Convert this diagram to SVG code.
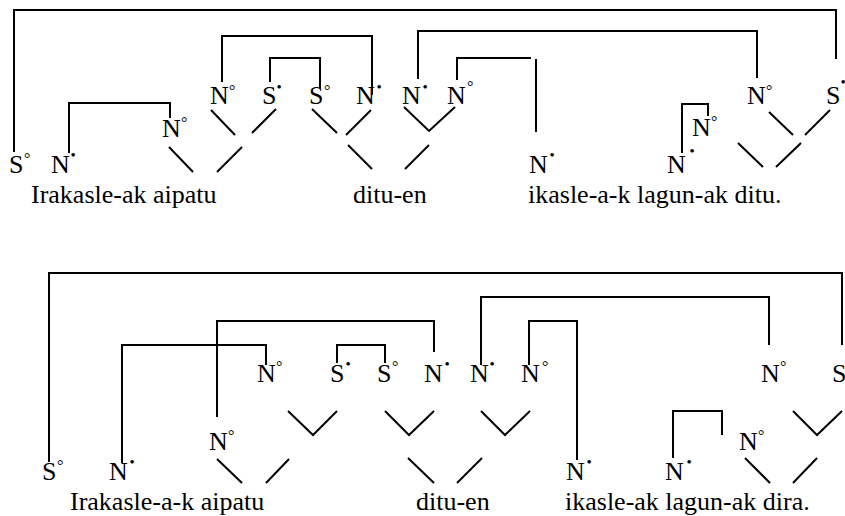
<svg xmlns="http://www.w3.org/2000/svg" width="845" height="516" viewBox="0 0 845 516">
<style>
text{font-family:"Liberation Serif","Times New Roman",serif;fill:#000}
.n{font-size:26px}
.w{font-size:26px}
.deg{font-size:16px}
.dot{font-size:15px}
.c path,.c line{stroke:#000;stroke-width:2;fill:none}
</style>
<rect width="845" height="516" fill="#fff"/>
<g id="connectors" class="c">
<!-- top diagram brackets -->
<path d="M14,152 V10 H836 V59"/>
<path d="M69,153 V103 H170 V118"/>
<path d="M222,82 V36 H372 V95"/>
<path d="M270,82 V58 H320 V88"/>
<path d="M418,79 V31 H757 V78"/>
<path d="M457,80 V58 H531"/>
<path d="M536,59 V132"/>
<path d="M682,153 V104 H708 V116"/>
<!-- top diagram branches -->
<line x1="169" y1="147" x2="193" y2="172"/><line x1="217" y1="172" x2="242" y2="147"/>
<line x1="211" y1="110" x2="235" y2="135"/><line x1="252" y1="133" x2="276" y2="109"/>
<line x1="312" y1="109" x2="337" y2="133"/><line x1="346" y1="135" x2="371" y2="110"/>
<line x1="348" y1="145" x2="372" y2="169"/><line x1="405" y1="169" x2="429" y2="145"/>
<path d="M404,107 L429,131 L455,107"/>
<line x1="769" y1="112" x2="793" y2="135"/><line x1="805" y1="135" x2="830" y2="110"/>
<line x1="738" y1="143" x2="763" y2="167"/><line x1="776" y1="167" x2="801" y2="143"/>
<!-- bottom diagram brackets -->
<path d="M49,462 V273 H842 V345"/>
<path d="M122,463 V345 H266 V365"/>
<path d="M217,417 V321 H434 V352"/>
<path d="M337,363 V345 H385 V363"/>
<path d="M481,365 V297 H769 V345"/>
<path d="M529,365 V321 H577 V460"/>
<path d="M673,458 V411 H722 V435"/>
<!-- bottom diagram branches -->
<line x1="217" y1="459" x2="242" y2="483"/><line x1="266" y1="483" x2="289" y2="459"/>
<path d="M288,411 L313,435 L337,411"/>
<path d="M385,411 L409,435 L434,411"/>
<path d="M481,411 L505,435 L530,411"/>
<line x1="408" y1="458" x2="434" y2="483"/><line x1="457" y1="483" x2="482" y2="458"/>
<path d="M793,411 L817,435 L842,411"/>
<line x1="745" y1="458" x2="770" y2="483"/><line x1="793" y1="483" x2="817" y2="458"/>
</g>
<!-- top diagram nodes -->
<g id="t1"><text class="n" x="9" y="173">S</text><text class="deg" x="24" y="163.5">°</text></g>
<g id="t2"><text class="n" x="51" y="173">N</text><text class="dot" x="70.4" y="160">•</text></g>
<g id="t3"><text class="n" x="162" y="137">N</text><text class="deg" x="181" y="127.5">°</text></g>
<g id="t4"><text class="n" x="210" y="104">N</text><text class="deg" x="229" y="95.5">°</text></g>
<g id="t5"><text class="n" x="262" y="104">S</text><text class="dot" x="276.6" y="92">•</text></g>
<g id="t6"><text class="n" x="309" y="104">S</text><text class="deg" x="324" y="95.5">°</text></g>
<g id="t7"><text class="n" x="356" y="104">N</text><text class="dot" x="376.4" y="92">•</text></g>
<g id="t8"><text class="n" x="402" y="104">N</text><text class="dot" x="422.4" y="92">•</text></g>
<g id="t9"><text class="n" x="447" y="104">N</text><text class="deg" x="467" y="91.5">°</text></g>
<g id="t10"><text class="n" x="529" y="173">N</text><text class="dot" x="549.4" y="160">•</text></g>
<g id="t11"><text class="n" x="667" y="173">N</text><text class="dot" x="689.4" y="156">•</text></g>
<g id="t12"><text class="n" x="692" y="136">N</text><text class="deg" x="711" y="126.5">°</text></g>
<g id="t13"><text class="n" x="747" y="104">N</text><text class="deg" x="766" y="95.5">°</text></g>
<g id="t14"><text class="n" x="826" y="104">S</text><text class="dot" x="840.6" y="87">•</text></g>
<g id="top-words">
<text class="w" x="31" y="203">Irakasle-ak aipatu</text>
<text class="w" x="353" y="203">ditu-en</text>
<text class="w" x="528" y="203">ikasle-a-k lagun-ak ditu.</text>
</g>
<!-- bottom diagram nodes -->
<g id="b1"><text class="n" x="42" y="480">S</text><text class="deg" x="57" y="470.5">°</text></g>
<g id="b2"><text class="n" x="109" y="480">N</text><text class="dot" x="129.4" y="467">•</text></g>
<g id="b3"><text class="n" x="209" y="450">N</text><text class="deg" x="228" y="440.5">°</text></g>
<g id="b4"><text class="n" x="257" y="382">N</text><text class="deg" x="276" y="371.5">°</text></g>
<g id="b5"><text class="n" x="330" y="382">S</text><text class="dot" x="345.4" y="369">•</text></g>
<g id="b6"><text class="n" x="377" y="382">S</text><text class="deg" x="392" y="371.5">°</text></g>
<g id="b7"><text class="n" x="424" y="382">N</text><text class="dot" x="444.4" y="369">•</text></g>
<g id="b8"><text class="n" x="470" y="382">N</text><text class="dot" x="489.4" y="369">•</text></g>
<g id="b9"><text class="n" x="521" y="382">N</text><text class="deg" x="542" y="371.5">°</text></g>
<g id="b10"><text class="n" x="566" y="480">N</text><text class="dot" x="586.4" y="467">•</text></g>
<g id="b11"><text class="n" x="665" y="480">N</text><text class="dot" x="686.4" y="467">•</text></g>
<g id="b12"><text class="n" x="739" y="450">N</text><text class="deg" x="758" y="440.5">°</text></g>
<g id="b13"><text class="n" x="761" y="382">N</text><text class="deg" x="780" y="371.5">°</text></g>
<g id="b14"><text class="n" x="832" y="382">S</text></g>
<g id="bottom-words">
<text class="w" x="70" y="510">Irakasle-a-k aipatu</text>
<text class="w" x="416" y="510">ditu-en</text>
<text class="w" x="565" y="510">ikasle-ak lagun-ak dira.</text>
</g>
</svg>
